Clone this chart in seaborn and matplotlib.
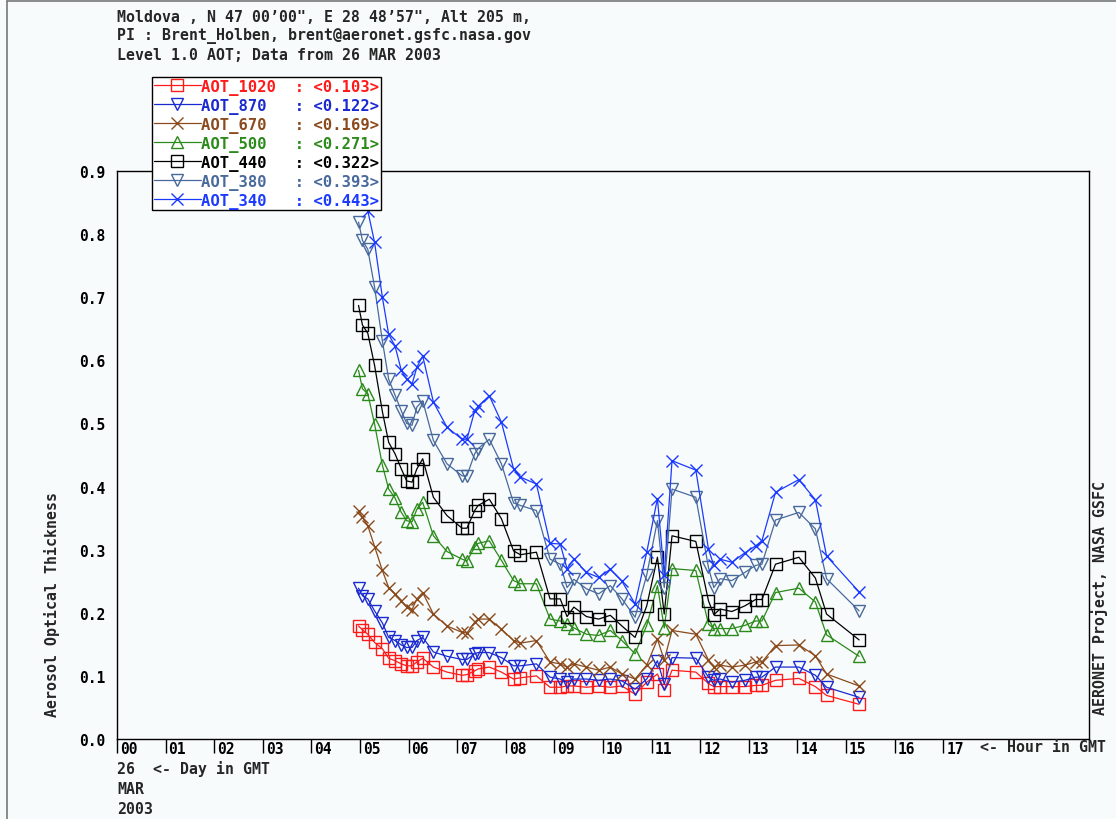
import matplotlib
matplotlib.use("Agg")
import matplotlib.pyplot as plt
import matplotlib.transforms as mtransforms
import numpy as np
import seaborn as sns

# hour of measurement (GMT) on 26 MAR 2003
hours = [4.97, 5.05, 5.16, 5.30, 5.46, 5.59, 5.72, 5.85, 5.96, 6.07, 6.17, 6.29,
         6.51, 6.79, 7.10, 7.20, 7.36, 7.43, 7.66, 7.91, 8.16, 8.30, 8.63,
         8.91, 9.12, 9.26, 9.40, 9.66, 9.91, 10.15, 10.39, 10.66, 10.90, 11.12, 11.26, 11.42, 11.91,
         12.17, 12.28, 12.41, 12.65, 12.92, 13.14, 13.27, 13.55, 14.03, 14.37, 14.60, 15.27]

aot_1020 = [0.179, 0.173, 0.166, 0.153, 0.143, 0.128, 0.124, 0.119, 0.116, 0.116, 0.122, 0.128,
            0.114, 0.106, 0.101, 0.102, 0.108, 0.111, 0.114, 0.106, 0.095, 0.097, 0.100,
            0.082, 0.082, 0.084, 0.084, 0.082, 0.084, 0.082, 0.084, 0.071, 0.090, 0.103, 0.078, 0.109, 0.106,
            0.088, 0.083, 0.083, 0.083, 0.083, 0.085, 0.085, 0.093, 0.096, 0.083, 0.069, 0.055]
aot_870 = [0.239, 0.227, 0.222, 0.203, 0.184, 0.161, 0.156, 0.149, 0.145, 0.145, 0.156, 0.161,
           0.138, 0.131, 0.126, 0.126, 0.135, 0.137, 0.137, 0.129, 0.116, 0.116, 0.119,
           0.098, 0.095, 0.090, 0.095, 0.095, 0.093, 0.095, 0.092, 0.079, 0.095, 0.124, 0.087, 0.129, 0.128,
           0.098, 0.093, 0.095, 0.090, 0.093, 0.098, 0.098, 0.114, 0.114, 0.101, 0.082, 0.066]
aot_670 = [0.361, 0.351, 0.338, 0.305, 0.267, 0.240, 0.230, 0.219, 0.209, 0.205, 0.222, 0.232,
           0.198, 0.179, 0.169, 0.168, 0.185, 0.190, 0.190, 0.174, 0.156, 0.152, 0.156,
           0.122, 0.119, 0.114, 0.119, 0.114, 0.109, 0.114, 0.103, 0.095, 0.117, 0.158, 0.125, 0.172, 0.166,
           0.125, 0.114, 0.117, 0.114, 0.117, 0.122, 0.122, 0.148, 0.149, 0.132, 0.103, 0.084]
aot_500 = [0.584, 0.555, 0.547, 0.499, 0.434, 0.396, 0.382, 0.359, 0.346, 0.344, 0.364, 0.375,
           0.322, 0.297, 0.285, 0.282, 0.304, 0.310, 0.314, 0.283, 0.251, 0.246, 0.246,
           0.190, 0.187, 0.183, 0.176, 0.166, 0.164, 0.172, 0.156, 0.135, 0.180, 0.243, 0.176, 0.270, 0.267,
           0.182, 0.175, 0.175, 0.175, 0.180, 0.187, 0.187, 0.232, 0.239, 0.217, 0.165, 0.131]
aot_440 = [0.687, 0.656, 0.643, 0.592, 0.519, 0.470, 0.452, 0.428, 0.409, 0.407, 0.428, 0.444,
           0.383, 0.354, 0.334, 0.334, 0.362, 0.370, 0.380, 0.349, 0.298, 0.292, 0.296,
           0.222, 0.222, 0.194, 0.209, 0.194, 0.190, 0.196, 0.179, 0.161, 0.211, 0.288, 0.198, 0.322, 0.313,
           0.219, 0.197, 0.206, 0.202, 0.211, 0.221, 0.221, 0.277, 0.288, 0.255, 0.198, 0.157]
aot_380 = [0.819, 0.790, 0.776, 0.716, 0.631, 0.570, 0.545, 0.520, 0.500, 0.497, 0.526, 0.536,
           0.473, 0.436, 0.417, 0.417, 0.452, 0.460, 0.475, 0.436, 0.374, 0.370, 0.362,
           0.285, 0.277, 0.240, 0.253, 0.238, 0.230, 0.243, 0.222, 0.193, 0.260, 0.346, 0.240, 0.396, 0.383,
           0.272, 0.240, 0.254, 0.251, 0.264, 0.275, 0.277, 0.347, 0.359, 0.333, 0.254, 0.203]
aot_340 = [0.890, 0.860, 0.837, 0.787, 0.700, 0.641, 0.623, 0.584, 0.570, 0.562, 0.589, 0.607,
           0.534, 0.494, 0.475, 0.475, 0.520, 0.527, 0.544, 0.502, 0.428, 0.415, 0.404,
           0.310, 0.309, 0.270, 0.285, 0.264, 0.256, 0.269, 0.250, 0.214, 0.296, 0.381, 0.260, 0.441, 0.426,
           0.301, 0.275, 0.285, 0.280, 0.295, 0.306, 0.314, 0.391, 0.411, 0.379, 0.290, 0.233]

channels = ["AOT_1020", "AOT_870", "AOT_670", "AOT_500", "AOT_440", "AOT_380", "AOT_340"]
means = ["0.103", "0.122", "0.169", "0.271", "0.322", "0.393", "0.443"]
hour_labels = ["%02d" % h for h in range(18)]

series = [aot_1020, aot_870, aot_670, aot_500, aot_440, aot_380, aot_340]
colors = ["#ff1a1a", "#1a2ad0", "#8b4a1c", "#2a8a1a", "#000000", "#48699c", "#1a3aff"]
markers = ["s", "v", "x", "^", "s", "v", "x"]

W, H = 1116, 820
bg = "#f8fbfb"

sns.set_theme(style="white")
plt.rcParams["font.family"] = ["DejaVu Sans Mono"]
plt.rcParams["font.weight"] = "bold"


def fx(px):
    return px / W


def fy(py):
    return 1 - py / H


fig = plt.figure(figsize=(W / 100, H / 100), dpi=100, facecolor=bg)
ax = fig.add_axes([fx(117), fy(740), (1089 - 117) / W, (740 - 172) / H])
ax.set_facecolor(bg)

for name, vals, c, m in zip(channels, series, colors, markers):
    sns.lineplot(x=hours, y=vals, ax=ax, color=c, marker=m, markersize=8,
                 markerfacecolor="none", markeredgecolor=c, markeredgewidth=1,
                 linewidth=0.9, label=name)

ax.set_xlim(0, 20)
ax.set_ylim(0, 0.9)
ax.set_xlabel("")
ax.set_ylabel("")
ax.set_yticks(np.arange(0, 0.91, 0.1))
ax.set_yticklabels(["%.1f" % v for v in np.arange(0, 0.91, 0.1)])
ax.set_xticks(range(18))
ax.set_xticklabels(hour_labels)
ax.tick_params(axis="y", length=0, pad=8.5, labelsize=10.5, colors="black")
ax.tick_params(axis="x", direction="out", length=10, width=1, pad=-8.5,
               labelsize=10.5, colors="black", bottom=True)
off = mtransforms.ScaledTranslation(3 / 100, 0, fig.dpi_scale_trans)
for lab in ax.get_xticklabels():
    lab.set_ha("left")
    lab.set_transform(lab.get_transform() + off)
for s in ax.spines.values():
    s.set_color("black")
    s.set_linewidth(1)
ax.grid(False)

handles, _ = ax.get_legend_handles_labels()
labels = ["%-10s: <%s>" % (n, m) for n, m in zip(channels, means)]
leg = ax.legend(handles, labels, loc="upper left", bbox_to_anchor=(fx(152), fy(78)),
                bbox_transform=fig.transFigure, frameon=True, fancybox=False,
                edgecolor="black", facecolor="white", framealpha=1, borderpad=0.12,
                borderaxespad=0, handlelength=3.0, handletextpad=0, labelspacing=0.19,
                prop={"family": "DejaVu Sans Mono", "weight": "bold", "size": 11.2})
for t, c in zip(leg.get_texts(), colors):
    t.set_color(c)
leg.get_frame().set_linewidth(1)

# header
fs = 10.7
fig.text(fx(117), fy(17), "Moldova , N 47 00\u201900\", E 28 48\u201957\", Alt 205 m,",
         fontsize=fs, va="center", ha="left")
fig.text(fx(117), fy(36), "PI : Brent_Holben, brent@aeronet.gsfc.nasa.gov",
         fontsize=fs, va="center", ha="left")
fig.text(fx(117), fy(55), "Level 1.0 AOT; Data from 26 MAR 2003",
         fontsize=fs, va="center", ha="left")

# footer / side texts
fig.text(fx(980), fy(748), "<- Hour in GMT", fontsize=fs, va="center", ha="left")
fig.text(fx(117), fy(769), "26  <- Day in GMT", fontsize=fs, va="center", ha="left")
fig.text(fx(117), fy(790), "MAR", fontsize=fs, va="center", ha="left")
fig.text(fx(117), fy(810), "2003", fontsize=fs, va="center", ha="left")
fig.text(fx(52), fy(605), "Aerosol Optical Thickness", fontsize=fs, rotation=90,
         va="center", ha="center")
fig.text(fx(1100), fy(598), "AERONET Project, NASA GSFC", fontsize=fs, rotation=90,
         va="center", ha="center")

# image frame
fig.add_artist(plt.Line2D([fx(7), fx(7)], [fy(2), fy(820)], color="#777777", lw=1.2))
fig.add_artist(plt.Line2D([fx(7), fx(1116)], [fy(2), fy(2)], color="#777777", lw=1.2))

fig.savefig("out.png", dpi=100, facecolor=bg)
